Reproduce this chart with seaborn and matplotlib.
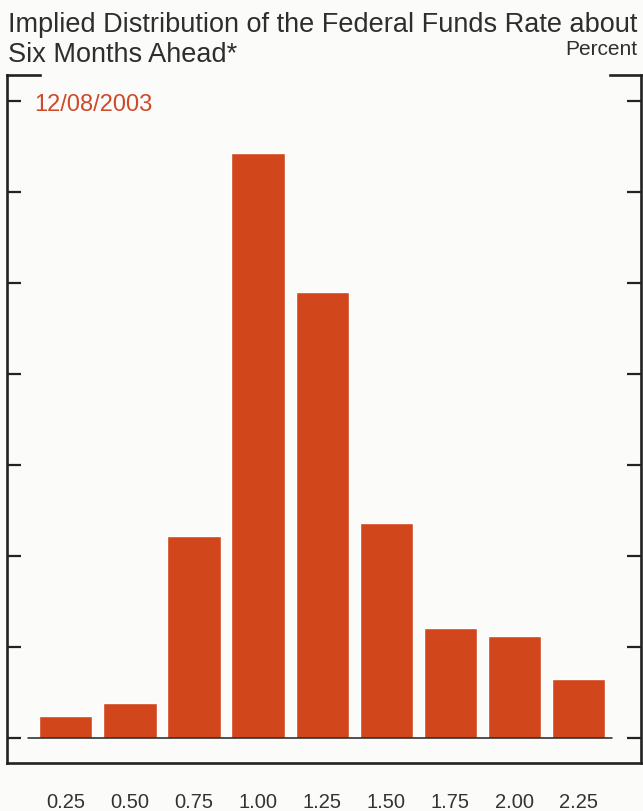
import matplotlib
matplotlib.use("Agg")
import matplotlib.pyplot as plt
import seaborn as sns
import pandas as pd
from matplotlib.lines import Line2D

# Data
rates = ["0.25", "0.50", "0.75", "1.00", "1.25", "1.50", "1.75", "2.00", "2.25"]
probs = [1.23, 1.92, 11.13, 32.14, 24.54, 11.85, 6.08, 5.64, 3.26]
yticks = [0, 5, 10, 15, 20, 25, 30, 35]
title_lines = ["Implied Distribution of the Federal Funds Rate about",
               "Six Months Ahead*"]
unit_label = "Percent"
date_label = "12/08/2003"

df = pd.DataFrame({"rate": rates, "prob": probs})

sns.set_theme(style="white")
plt.rcParams["font.family"] = ["Liberation Sans", "DejaVu Sans"]

W, H = 643, 811
fig = plt.figure(figsize=(W / 100, H / 100), dpi=100)
bg = "#fbfbf9"
fig.patch.set_facecolor(bg)

left, right, top, bottom = 7, 641, 75, 763
ax = fig.add_axes([left / W, 1 - bottom / H, (right - left) / W, (bottom - top) / H])
ax.set_facecolor(bg)

bar_color = "#d2461b"
sns.barplot(data=df, x="rate", y="prob", order=rates, color=bar_color,
            saturation=1, width=0.83, ax=ax)

ax.set_xlim(-0.92, 8.98)
ax.set_ylim(-1.36, 36.45)
ax.set_xlabel("")
ax.set_ylabel("")
ax.set_yticks(yticks)
ax.set_yticklabels([])

ax.tick_params(axis="y", which="both", direction="in", length=10, width=1.6,
               color="#222222", left=True, right=True, labelleft=False)
ax.tick_params(axis="x", which="both", length=0, pad=21.5, labelsize=14.5,
               labelcolor="#333333")

for s in ["left", "right", "bottom"]:
    ax.spines[s].set_visible(True)
    ax.spines[s].set_color("#222222")
    ax.spines[s].set_linewidth(1.9)
ax.spines["top"].set_visible(False)

# baseline at zero
ax.axhline(0, xmin=(28 - left) / (right - left), xmax=(612 - left) / (right - left),
           color="#222222", lw=1.1, zorder=3)

# top corner caps
capw = 1.9
ax.add_line(Line2D([0, (40 - left) / (right - left)], [1, 1], transform=ax.transAxes,
                   color="#222222", lw=capw, clip_on=False, solid_capstyle="projecting"))
ax.add_line(Line2D([(610 - left) / (right - left), 1], [1, 1], transform=ax.transAxes,
                   color="#222222", lw=capw, clip_on=False, solid_capstyle="projecting"))

# texts
txtc = "#2e2e2e"
fig.text(8 / W, 1 - 32.3 / H, title_lines[0], ha="left", va="baseline",
         fontsize=19.5, color=txtc)
fig.text(8 / W, 1 - 61.7 / H, title_lines[1], ha="left", va="baseline",
         fontsize=19.5, color=txtc)
fig.text(637 / W, 1 - 55 / H, unit_label, ha="right", va="baseline",
         fontsize=15, color=txtc)
fig.text(34 / W, 1 - 111 / H, date_label, ha="left", va="baseline",
         fontsize=17, color="#cf4a2a")

fig.savefig("out.png", dpi=100, facecolor=bg)
